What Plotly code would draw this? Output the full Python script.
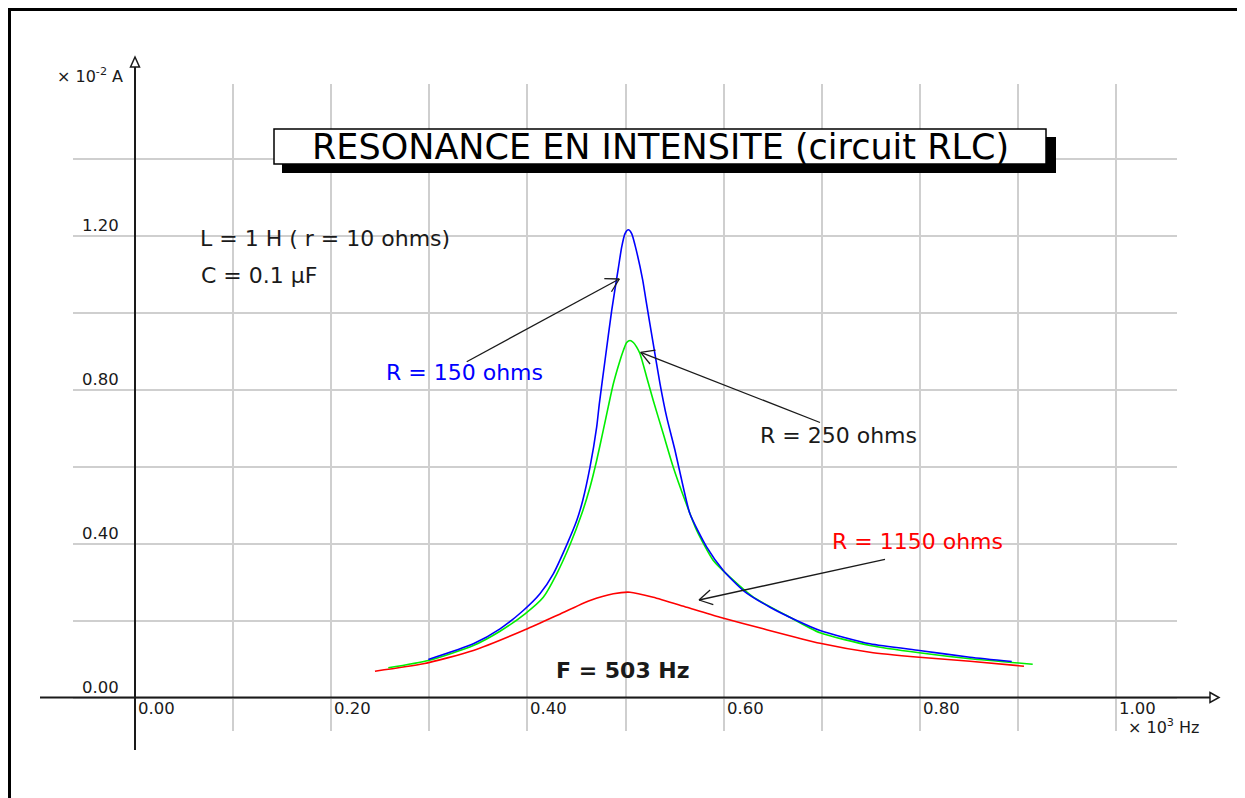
import math
import plotly.graph_objects as go

W, H = 1245, 798

# ---------------- data (frequency in 10^3 Hz, current in 10^-2 A) ----------------
f_150 = [0.2990, 0.3449, 0.3721, 0.3958, 0.4128, 0.4264, 0.4401, 0.4503, 0.4564, 0.4638,
         0.4706, 0.4733, 0.4791, 0.4859, 0.4927, 0.4961, 0.4995, 0.5029, 0.5063, 0.5097,
         0.5175, 0.5209, 0.5283, 0.5352, 0.5420, 0.5505, 0.5589, 0.5657, 0.5828, 0.5997,
         0.6201, 0.6473, 0.6745, 0.6983, 0.7492, 0.7995, 0.8512, 0.8937]
i_150 = [0.0987, 0.1395, 0.1784, 0.2260, 0.2694, 0.3213, 0.3966, 0.4597, 0.5117, 0.5982,
         0.7021, 0.7629, 0.8753, 1.0050, 1.1150, 1.1700, 1.2050, 1.2148, 1.2050, 1.1750,
         1.0850, 1.0312, 0.9187, 0.8148, 0.7281, 0.6416, 0.5462, 0.4771, 0.3904, 0.3299,
         0.2779, 0.2345, 0.2000, 0.1740, 0.1395, 0.1221, 0.1047, 0.0935]

f_250 = [0.2582, 0.2990, 0.3449, 0.3721, 0.3976, 0.4162, 0.4299, 0.4434, 0.4554, 0.4638,
         0.4706, 0.4774, 0.4825, 0.4876, 0.4944, 0.4978, 0.5012, 0.5046, 0.5080, 0.5114,
         0.5148, 0.5216, 0.5283, 0.5385, 0.5487, 0.5607, 0.5726, 0.5895, 0.6065, 0.6303,
         0.6643, 0.6983, 0.7492, 0.7995, 0.8512, 0.9151]
i_250 = [0.0771, 0.0961, 0.1351, 0.1722, 0.2174, 0.2605, 0.3213, 0.3966, 0.4771, 0.5462,
         0.6156, 0.6950, 0.7560, 0.8148, 0.8753, 0.9013, 0.9221, 0.9273, 0.9221, 0.9099,
         0.8927, 0.8320, 0.7714, 0.6849, 0.5982, 0.5117, 0.4338, 0.3558, 0.3125, 0.2605,
         0.2130, 0.1681, 0.1351, 0.1161, 0.1005, 0.0865]

f_1150 = [0.2446, 0.2939, 0.3449, 0.3958, 0.4299, 0.4638, 0.4876, 0.5046, 0.5283, 0.5624,
          0.5963, 0.6405, 0.6983, 0.7492, 0.7995, 0.8512, 0.9062]
i_1150 = [0.0683, 0.0875, 0.1221, 0.1740, 0.2130, 0.2519, 0.2694, 0.2735, 0.2605, 0.2345,
          0.2086, 0.1784, 0.1410, 0.1177, 0.1047, 0.0943, 0.0813]

x_tick_vals = [0.0, 0.2, 0.4, 0.6, 0.8, 1.0]
x_tick_text = ["0.00", "0.20", "0.40", "0.60", "0.80", "1.00"]
y_tick_vals = [0.0, 0.4, 0.8, 1.2]
y_tick_text = ["0.00", "0.40", "0.80", "1.20"]

# ---------------- layout geometry (page pixels) ----------------
OFF = 8.0                            # the figure sits 8px inside the page (body margin)
X0_PX, X_PER_UNIT = 135.0, 981.0     # x=0 position and pixels per 10^3 Hz
Y0_PX, Y_PER_UNIT = 697.5, 385.0     # y=0 position and pixels per 10^-2 A
PLOT_L, PLOT_R, PLOT_T, PLOT_B = 73, 1177, 84, 731

def PX(px):
    return (px - OFF) / W

def PY(py):
    return 1 - (py - OFF) / H

x_range = [(PLOT_L - X0_PX) / X_PER_UNIT, (PLOT_R - X0_PX) / X_PER_UNIT]
y_range = [(Y0_PX - PLOT_B) / Y_PER_UNIT, (Y0_PX - PLOT_T) / Y_PER_UNIT]

FONT = "DejaVu Sans"
INK = "#1a1a1a"

fig = go.Figure()
fig.add_trace(go.Scatter(x=f_1150, y=i_1150, mode="lines",
                         line=dict(color="#ff0000", width=1.6, shape="spline", smoothing=0.6)))
fig.add_trace(go.Scatter(x=f_250, y=i_250, mode="lines",
                         line=dict(color="#00ee00", width=1.6, shape="spline", smoothing=0.6)))
fig.add_trace(go.Scatter(x=f_150, y=i_150, mode="lines",
                         line=dict(color="#0000ff", width=1.6, shape="spline", smoothing=0.6)))

shapes = []
def seg(x0, y0, x1, y1, color=INK, width=2.0):
    shapes.append(dict(type="line", xref="paper", yref="paper",
                       x0=PX(x0), y0=PY(y0), x1=PX(x1), y1=PY(y1),
                       line=dict(color=color, width=width)))

# frame (top and left)
seg(8, 9.5, 1260, 9.5, "black", 3)
seg(9.5, 8, 9.5, 810, "black", 3)
# axes lines
seg(40, Y0_PX, 1210, Y0_PX)
seg(X0_PX, 750, X0_PX, 67)
# open arrow heads on the axes
shapes.append(dict(type="path", xref="paper", yref="paper",
                   path=f"M{PX(X0_PX-4.5)},{PY(67)} L{PX(X0_PX)},{PY(57)} L{PX(X0_PX+4.5)},{PY(67)} Z",
                   fillcolor="white", line=dict(color=INK, width=1.5)))
shapes.append(dict(type="path", xref="paper", yref="paper",
                   path=f"M{PX(1210)},{PY(Y0_PX-5)} L{PX(1219)},{PY(Y0_PX)} L{PX(1210)},{PY(Y0_PX+5)} Z",
                   fillcolor="white", line=dict(color=INK, width=1.5)))
# title box with shadow
shapes.append(dict(type="rect", xref="paper", yref="paper", x0=PX(282), x1=PX(1056), y0=PY(173), y1=PY(137),
                   fillcolor="black", line=dict(color="black", width=0)))
shapes.append(dict(type="rect", xref="paper", yref="paper", x0=PX(274), x1=PX(1046), y0=PY(164), y1=PY(129),
                   fillcolor="white", line=dict(color="black", width=1.5)))

# pointer arrows: line from tail to head with an open V head
def pointer(hx, hy, tx, ty, barb=15, spread=30):
    seg(tx, ty, hx, hy, INK, 1.3)
    back = math.atan2(ty - hy, tx - hx)
    for s in (-spread, spread):
        a = back + math.radians(s)
        seg(hx, hy, hx + barb * math.cos(a), hy + barb * math.sin(a), INK, 1.3)

pointer(619.3, 279, 466.7, 361.7)
pointer(640.7, 352.3, 820, 422.5)
pointer(699, 600, 885, 559.3)

ann = []
# tick labels
for v, t in zip(x_tick_vals, x_tick_text):
    ann.append(dict(x=v, xref="x", y=PY(708), yref="paper", text=t, showarrow=False,
                    xanchor="left", yanchor="middle", xshift=1,
                    font=dict(family=FONT, size=16.5, color=INK)))
for v, t in zip(y_tick_vals, y_tick_text):
    ann.append(dict(x=PX(121), xref="paper", y=v, yref="y", text=t, showarrow=False,
                    xanchor="right", yanchor="middle", yshift=10,
                    font=dict(family=FONT, size=16.5, color=INK)))
# axis unit labels
ann.append(dict(x=PX(90), y=PY(75), xref="paper", yref="paper", text="× 10<sup>-2</sup> A", showarrow=False,
                xanchor="center", yanchor="middle", font=dict(family=FONT, size=16, color=INK)))
ann.append(dict(x=PX(1164), y=PY(726), xref="paper", yref="paper", text="× 10<sup>3</sup> Hz", showarrow=False,
                xanchor="center", yanchor="middle", font=dict(family=FONT, size=16, color=INK)))
# title
ann.append(dict(x=PX(660), y=PY(147), xref="paper", yref="paper", text="RESONANCE EN INTENSITE (circuit RLC)",
                showarrow=False, xanchor="center", yanchor="middle",
                font=dict(family=FONT, size=35, color="black")))
# circuit parameters
ann.append(dict(x=PX(198), y=PY(238), xref="paper", yref="paper", text="L = 1 H ( r = 10 ohms)",
                showarrow=False, xanchor="left", yanchor="middle", font=dict(family=FONT, size=22, color=INK)))
ann.append(dict(x=PX(199), y=PY(275), xref="paper", yref="paper", text="C = 0.1 μF",
                showarrow=False, xanchor="left", yanchor="middle", font=dict(family=FONT, size=22, color=INK)))
# curve labels
ann.append(dict(x=PX(464), y=PY(372.5), xref="paper", yref="paper", text="R = 150 ohms", showarrow=False,
                xanchor="center", yanchor="middle", font=dict(family=FONT, size=22, color="#0000ff")))
ann.append(dict(x=PX(838), y=PY(435), xref="paper", yref="paper", text="R = 250 ohms", showarrow=False,
                xanchor="center", yanchor="middle", font=dict(family=FONT, size=22, color=INK)))
ann.append(dict(x=PX(917), y=PY(541.5), xref="paper", yref="paper", text="R = 1150 ohms", showarrow=False,
                xanchor="center", yanchor="middle", font=dict(family=FONT, size=22, color="#ff0000")))
ann.append(dict(x=PX(623), y=PY(670.5), xref="paper", yref="paper", text="<b>F = 503 Hz</b>", showarrow=False,
                xanchor="center", yanchor="middle", font=dict(family=FONT, size=22, color=INK)))

fig.update_layout(
    width=W, height=H,
    margin=dict(l=0, r=0, t=0, b=0),
    paper_bgcolor="white", plot_bgcolor="white",
    showlegend=False,
    xaxis=dict(domain=[PX(PLOT_L), PX(PLOT_R)], range=x_range, tick0=0, dtick=0.1,
               showgrid=True, gridcolor="#cfcfcf", gridwidth=1.6, zeroline=False,
               showticklabels=False, ticks="", showline=False, fixedrange=True),
    yaxis=dict(domain=[PY(PLOT_B), PY(PLOT_T)], range=y_range, tick0=0, dtick=0.2,
               showgrid=True, gridcolor="#cfcfcf", gridwidth=1.6, zeroline=False,
               showticklabels=False, ticks="", showline=False, fixedrange=True),
    shapes=shapes,
    annotations=ann,
)

fig.write_html("out.html")
